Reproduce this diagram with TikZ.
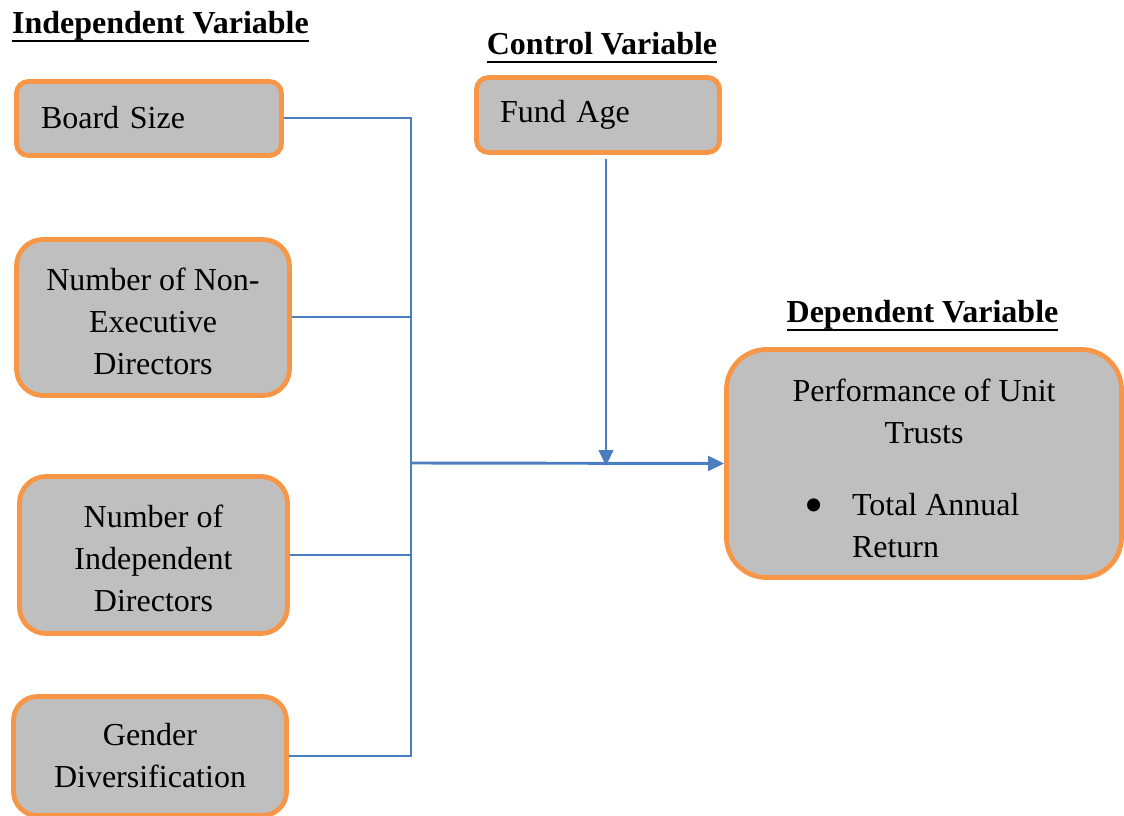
\documentclass[tikz,border=0pt]{standalone}
\usepackage{fontspec}
\setmainfont{Liberation Serif}
\usetikzlibrary{arrows.meta, positioning, calc}
\definecolor{boxorange}{RGB}{247,150,70}
\definecolor{boxgray}{RGB}{191,191,191}
\definecolor{linkblue}{RGB}{74,126,193}
\newcommand{\headline}[1]{\setbox0\hbox{#1}\rlap{\rule[-6.2pt]{\wd0}{2pt}}\box0}
\newcommand{\bigdot}{\raisebox{-6pt}{\fontsize{41}{0}\selectfont\textbullet}}

\begin{document}
\begin{tikzpicture}[x=0.75pt, y=-0.75pt, var/.style={draw=boxorange, fill=boxgray, line width=3.6pt, align=center, inner sep=0pt, font=\fontsize{24}{31.5}\selectfont}, head/.style={font=\bfseries\fontsize{24}{28}\selectfont, anchor=base, inner sep=0pt}, link/.style={draw=linkblue, line width=1.5pt}, >={Triangle[length=12pt, width=11pt]}]
        \useasboundingbox (0,0) rectangle (1124,816);

        \node[head] (indephead) at (160.5,34) {\headline{Independent Variable}};
        \node[head] (ctrlhead) at (602,55) {\headline{Control Variable}};
        \node[head] (dephead) at (922.5,323) {\headline{Dependent Variable}};

        \node[var, minimum width=198.75pt, minimum height=55.5pt, text width=162pt, inner xsep=18.4pt, align=left, rounded corners=9pt] (board) at (149,118.5) {\raisebox{2pt}{Board Size}};
        \node[var, minimum width=204.75pt, minimum height=117pt, rounded corners=20pt] (nonexec) at (153,317.5) {\rule{0pt}{22pt}Number of Non-\\Executive\\Directors};
        \node[var, minimum width=201pt, minimum height=117.75pt, rounded corners=20pt] (indep) at (153.5,555) {\rule{0pt}{22pt}Number of\\Independent\\Directors};
        \node[var, minimum width=204.75pt, minimum height=89.25pt, rounded corners=18pt] (gender) at (150,756) {Gender\\Diversification};
        \node[var, minimum width=182.25pt, minimum height=56.25pt, text width=147pt, inner xsep=17.6pt, align=left, rounded corners=9pt] (fund) at (598,115) {Fund Age};
        \node[var, minimum width=296.25pt, minimum height=171pt, rounded corners=30pt] (perf) at (924,463.5) {\rule{0pt}{24pt}Performance of Unit\\Trusts\\[23pt]\makebox[180pt][l]{\makebox[36pt][l]{\bigdot}Total Annual}\\\makebox[180pt][l]{\hspace{36pt}Return}};

        \coordinate (jn) at (411,463);
        \coordinate (fundin) at (fund.south |- jn);

        \draw[link] (board.east) -- (board.east -| jn) -- (gender.east -| jn) -- (gender.east);
        \draw[link] (nonexec.east) -- (nonexec.east -| jn);
        \draw[link] (indep.east) -- (indep.east -| jn);
        \draw[link, line width=2.2pt, ->] (jn) -- (perf.west);
        \draw[link, ->, shorten <=3pt] ($(fund.south)+(8,0)$) -- ($(fundin)+(8,3)$);
\end{tikzpicture}
\end{document}
